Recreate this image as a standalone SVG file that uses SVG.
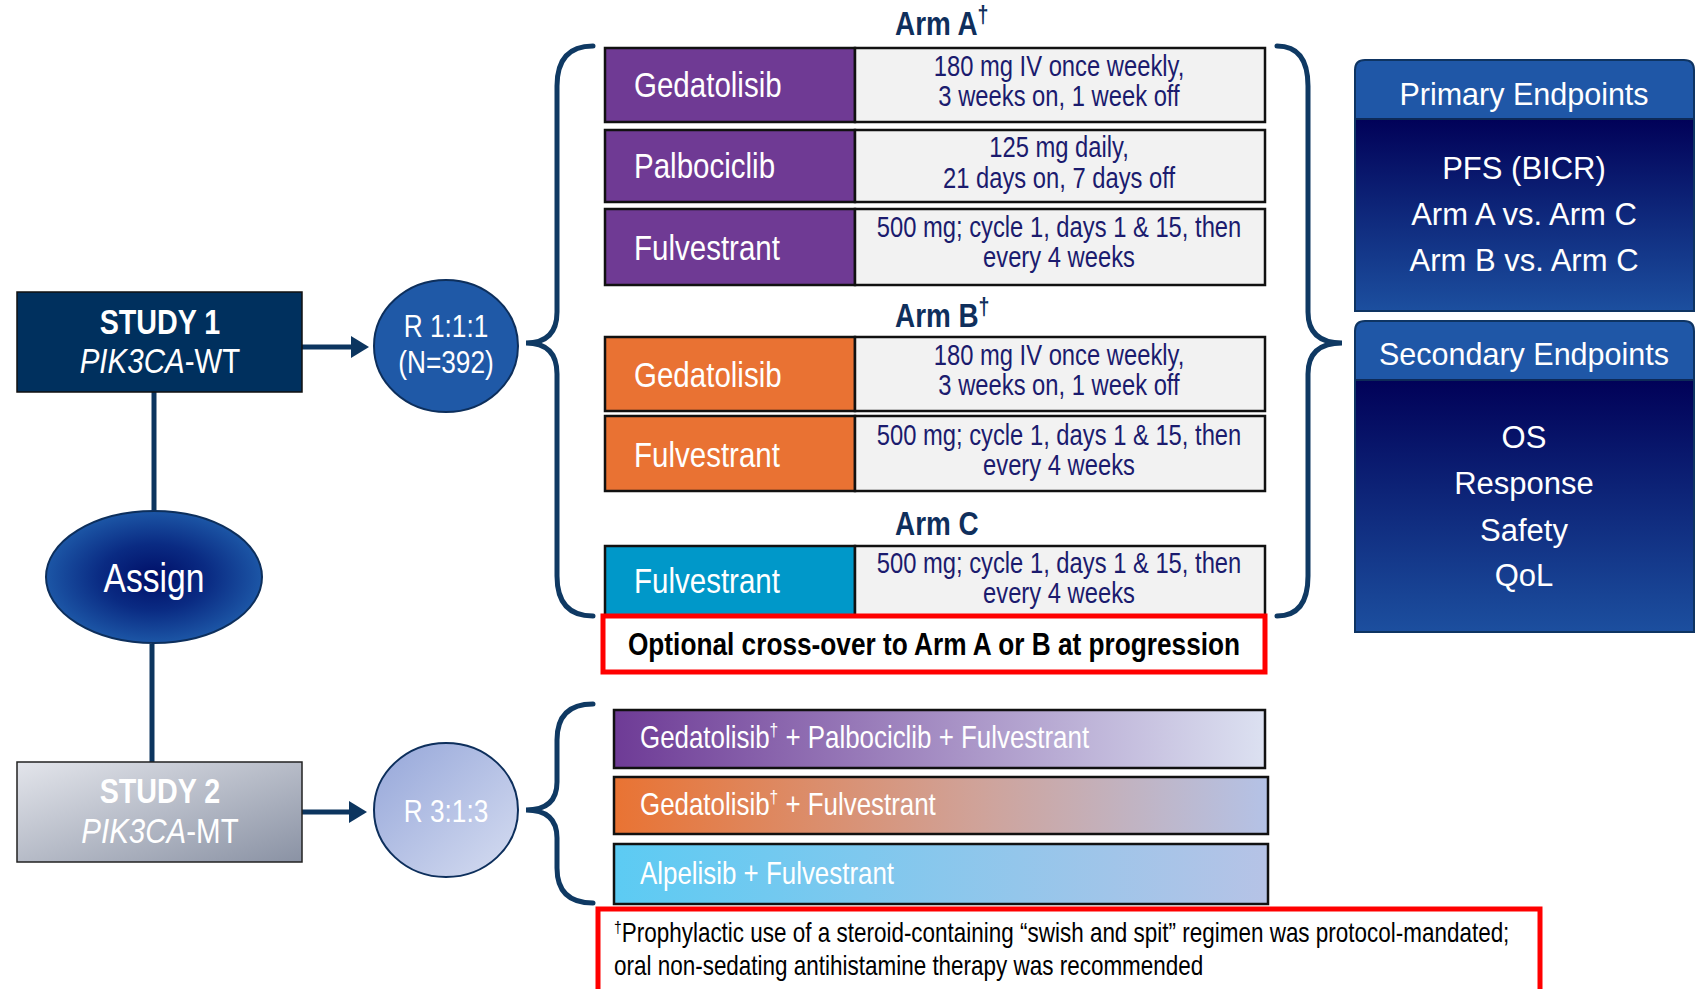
<svg xmlns="http://www.w3.org/2000/svg" width="1701" height="989" viewBox="0 0 1701 989">
  <defs>
    <style>
      .nar { font-family: "Liberation Sans", Arial, sans-serif; }
      .wide { font-family: "Liberation Sans", Arial, sans-serif; }
      .lbl { fill: #ffffff; font-size: 36px; }
      .dose { fill: #1b1b6e; font-size: 29px; text-anchor: middle; }
      .arm { fill: #0f2f5c; font-size: 34px; font-weight: bold; }
      .ep { fill: #ffffff; font-size: 31px; text-anchor: middle; }
      .eph { fill: #ffffff; font-size: 30.5px; text-anchor: middle; }
      .reg { fill: #ffffff; font-size: 31.6px; }
      .foot { fill: #000000; font-size: 27.4px; }
      .cellL { stroke: #111111; stroke-width: 2.5; }
      .cellR { fill: #f2f2f2; stroke: #111111; stroke-width: 2.5; }
      .link { fill: none; stroke: #0c355f; stroke-width: 5; }
      .brace { fill: none; stroke: #0f3963; stroke-width: 5; stroke-linecap: round; }
      .redbox { fill: #ffffff; stroke: #ff0000; stroke-width: 5; }
    </style>
    <marker id="ah" markerWidth="20" markerHeight="22" refX="0" refY="11" orient="auto" markerUnits="userSpaceOnUse">
      <path d="M0,0 L18,11 L0,22 z" fill="#0c355f"/>
    </marker>
    <radialGradient id="assignGrad" cx="50%" cy="50%" r="50%">
      <stop offset="0" stop-color="#000f68"/>
      <stop offset="0.5" stop-color="#0a2b83"/>
      <stop offset="1" stop-color="#1c56a6"/>
    </radialGradient>
    <linearGradient id="study2Grad" x1="0" y1="0" x2="1" y2="1">
      <stop offset="0" stop-color="#e3e5eb"/>
      <stop offset="1" stop-color="#8a92a4"/>
    </linearGradient>
    <linearGradient id="r3Grad" x1="0" y1="0" x2="1" y2="1">
      <stop offset="0" stop-color="#95a6d9"/>
      <stop offset="1" stop-color="#d6ddf1"/>
    </linearGradient>
    <linearGradient id="epBody" x1="0" y1="0" x2="0" y2="1">
      <stop offset="0" stop-color="#010158"/>
      <stop offset="1" stop-color="#1c4f9f"/>
    </linearGradient>
    <linearGradient id="rowP" x1="0" y1="0" x2="1" y2="0">
      <stop offset="0" stop-color="#6e3b96"/>
      <stop offset="1" stop-color="#dce1f1"/>
    </linearGradient>
    <linearGradient id="rowO" x1="0" y1="0" x2="1" y2="0">
      <stop offset="0" stop-color="#e97333"/>
      <stop offset="0.55" stop-color="#d0a298"/>
      <stop offset="1" stop-color="#b4c2e6"/>
    </linearGradient>
    <linearGradient id="rowB" x1="0" y1="0" x2="1" y2="0">
      <stop offset="0" stop-color="#5ccbf3"/>
      <stop offset="1" stop-color="#b6c3e6"/>
    </linearGradient>
  </defs>

  <rect width="1701" height="989" fill="#ffffff"/>

  <!-- connectors -->
  <g id="connectors">
    <path class="link" d="M154,392 V512"/>
    <path class="link" d="M152,644 V762"/>
    <path class="link" d="M302,347 H351" marker-end="url(#ah)"/>
    <path class="link" d="M302,812 H349" marker-end="url(#ah)"/>
    <path class="brace" d="M593,46 Q557,46 557,86 L557,312 Q557,343 526,343 Q557,343 557,374 L557,576 Q557,616 593,616"/>
    <path class="brace" d="M1277,46 Q1308,46 1308,86 L1308,312 Q1308,343 1342,343 Q1308,343 1308,374 L1308,576 Q1308,616 1277,616"/>
    <path class="brace" d="M593,704 Q557,704 557,740 L557,782 Q557,810 526,810 Q557,810 557,838 L557,868 Q557,903 593,903"/>
  </g>

  <!-- study 1 -->
  <g id="study1">
    <rect x="17" y="292" width="285" height="100" fill="#00305e" stroke="#111111" stroke-width="1.5"/>
    <text class="nar" transform="translate(160,334) scale(0.82,1)" fill="#ffffff" font-size="35" font-weight="bold" text-anchor="middle">STUDY 1</text>
    <text class="nar" transform="translate(160,373) scale(0.82,1)" fill="#ffffff" font-size="36" text-anchor="middle"><tspan font-style="italic">PIK3CA</tspan>-WT</text>
  </g>

  <!-- randomisation, study 1 -->
  <g id="rand1">
    <ellipse cx="446" cy="346" rx="72" ry="66" fill="#1f59a7" stroke="#0d2f5c" stroke-width="2"/>
    <text class="nar" transform="translate(446,337) scale(0.82,1)" fill="#ffffff" font-size="32" text-anchor="middle">R 1:1:1</text>
    <text class="nar" transform="translate(446,373) scale(0.82,1)" fill="#ffffff" font-size="32" text-anchor="middle">(N=392)</text>
  </g>

  <!-- assignment -->
  <g id="assign">
    <ellipse cx="154" cy="577" rx="108" ry="66" fill="url(#assignGrad)" stroke="#0d2f5c" stroke-width="2"/>
    <text class="nar" transform="translate(154,592) scale(0.82,1)" fill="#ffffff" font-size="41" text-anchor="middle">Assign</text>
  </g>

  <!-- study 2 -->
  <g id="study2">
    <rect x="17" y="762" width="285" height="100" fill="url(#study2Grad)" stroke="#222222" stroke-width="1.5"/>
    <text class="nar" transform="translate(160,803) scale(0.82,1)" fill="#ffffff" font-size="35" font-weight="bold" text-anchor="middle">STUDY 2</text>
    <text class="nar" transform="translate(160,843) scale(0.82,1)" fill="#ffffff" font-size="36" text-anchor="middle"><tspan font-style="italic">PIK3CA</tspan>-MT</text>
  </g>

  <!-- randomisation, study 2 -->
  <g id="rand2">
    <ellipse cx="446" cy="810" rx="72" ry="67" fill="url(#r3Grad)" stroke="#0d2f5c" stroke-width="2"/>
    <text class="nar" transform="translate(446,822) scale(0.82,1)" fill="#ffffff" font-size="32" text-anchor="middle">R 3:1:3</text>
  </g>

  <!-- arm A -->
  <g id="armA">
    <text class="nar arm" transform="translate(895,35) scale(0.82,1)">Arm A<tspan font-size="24" dy="-12">†</tspan></text>
    <rect class="cellL" x="605" y="48" width="250" height="74" fill="#6f3a94"/>
    <rect class="cellR" x="855" y="48" width="410" height="74"/>
    <text class="nar lbl" transform="translate(634,97) scale(0.82,1)">Gedatolisib</text>
    <text class="nar dose" transform="translate(1059,76) scale(0.82,1)">180 mg IV once weekly,</text>
    <text class="nar dose" transform="translate(1059,106) scale(0.82,1)">3 weeks on, 1 week off</text>

    <rect class="cellL" x="605" y="130" width="250" height="72" fill="#6f3a94"/>
    <rect class="cellR" x="855" y="130" width="410" height="72"/>
    <text class="nar lbl" transform="translate(634,178) scale(0.82,1)">Palbociclib</text>
    <text class="nar dose" transform="translate(1059,157) scale(0.82,1)">125 mg daily,</text>
    <text class="nar dose" transform="translate(1059,188) scale(0.82,1)">21 days on, 7 days off</text>

    <rect class="cellL" x="605" y="209" width="250" height="76" fill="#6f3a94"/>
    <rect class="cellR" x="855" y="209" width="410" height="76"/>
    <text class="nar lbl" transform="translate(634,260) scale(0.82,1)">Fulvestrant</text>
    <text class="nar dose" transform="translate(1059,237) scale(0.82,1)">500 mg; cycle 1, days 1 &amp; 15, then</text>
    <text class="nar dose" transform="translate(1059,267) scale(0.82,1)">every 4 weeks</text>
  </g>

  <!-- arm B -->
  <g id="armB">
    <text class="nar arm" transform="translate(895,327) scale(0.82,1)">Arm B<tspan font-size="24" dy="-12">†</tspan></text>
    <rect class="cellL" x="605" y="337" width="250" height="74" fill="#e97233"/>
    <rect class="cellR" x="855" y="337" width="410" height="74"/>
    <text class="nar lbl" transform="translate(634,387) scale(0.82,1)">Gedatolisib</text>
    <text class="nar dose" transform="translate(1059,365) scale(0.82,1)">180 mg IV once weekly,</text>
    <text class="nar dose" transform="translate(1059,395) scale(0.82,1)">3 weeks on, 1 week off</text>

    <rect class="cellL" x="605" y="416" width="250" height="75" fill="#e97233"/>
    <rect class="cellR" x="855" y="416" width="410" height="75"/>
    <text class="nar lbl" transform="translate(634,467) scale(0.82,1)">Fulvestrant</text>
    <text class="nar dose" transform="translate(1059,445) scale(0.82,1)">500 mg; cycle 1, days 1 &amp; 15, then</text>
    <text class="nar dose" transform="translate(1059,475) scale(0.82,1)">every 4 weeks</text>
  </g>

  <!-- arm C -->
  <g id="armC">
    <text class="nar arm" transform="translate(895,535) scale(0.82,1)">Arm C</text>
    <rect class="cellL" x="605" y="546" width="250" height="70" fill="#0098c9"/>
    <rect class="cellR" x="855" y="546" width="410" height="70"/>
    <text class="nar lbl" transform="translate(634,593) scale(0.82,1)">Fulvestrant</text>
    <text class="nar dose" transform="translate(1059,573) scale(0.82,1)">500 mg; cycle 1, days 1 &amp; 15, then</text>
    <text class="nar dose" transform="translate(1059,603) scale(0.82,1)">every 4 weeks</text>
  </g>

  <!-- cross-over note -->
  <g id="crossover">
    <rect class="redbox" x="603" y="616" width="662" height="56"/>
    <text class="nar" transform="translate(934,655) scale(0.82,1)" fill="#000000" font-size="32" font-weight="bold" text-anchor="middle">Optional cross-over to Arm A or B at progression</text>
  </g>

  <!-- study 2 regimens -->
  <g id="regimen1">
    <rect x="614" y="710" width="651" height="58" fill="url(#rowP)" stroke="#111111" stroke-width="2.5"/>
    <text class="nar reg" transform="translate(640,748) scale(0.82,1)">Gedatolisib<tspan font-size="19" dy="-12">†</tspan><tspan dy="12"> + Palbociclib + Fulvestrant</tspan></text>
  </g>
  <g id="regimen2">
    <rect x="614" y="777" width="654" height="57" fill="url(#rowO)" stroke="#111111" stroke-width="2.5"/>
    <text class="nar reg" transform="translate(640,815) scale(0.82,1)">Gedatolisib<tspan font-size="19" dy="-12">†</tspan><tspan dy="12"> + Fulvestrant</tspan></text>
  </g>
  <g id="regimen3">
    <rect x="614" y="844" width="654" height="60" fill="url(#rowB)" stroke="#111111" stroke-width="2.5"/>
    <text class="nar reg" transform="translate(640,884) scale(0.82,1)">Alpelisib + Fulvestrant</text>
  </g>

  <!-- footnote -->
  <g id="footnote">
    <rect class="redbox" x="598" y="909" width="942" height="100"/>
    <text class="nar foot" transform="translate(614,942) scale(0.82,1)"><tspan font-size="17" dy="-9">†</tspan><tspan dy="9">Prophylactic use of a steroid-containing “swish and spit” regimen was protocol-mandated;</tspan></text>
    <text class="nar foot" transform="translate(614,975) scale(0.82,1)">oral non-sedating antihistamine therapy was recommended</text>
  </g>

  <!-- primary endpoints -->
  <g id="primary">
    <path d="M1355,311 V70 Q1355,60 1365,60 H1684 Q1694,60 1694,70 V311 Z" fill="#1f57a7"/>
    <rect x="1355" y="119" width="339" height="192" fill="url(#epBody)"/>
    <line x1="1355" y1="119" x2="1694" y2="119" stroke="#0d2a58" stroke-width="2"/>
    <path d="M1355,311 V70 Q1355,60 1365,60 H1684 Q1694,60 1694,70 V311 Z" fill="none" stroke="#0e3462" stroke-width="2"/>
    <text class="wide eph" x="1524" y="105">Primary Endpoints</text>
    <text class="wide ep" x="1524" y="179">PFS (BICR)</text>
    <text class="wide ep" x="1524" y="225">Arm A vs. Arm C</text>
    <text class="wide ep" x="1524" y="271">Arm B vs. Arm C</text>
  </g>

  <!-- secondary endpoints -->
  <g id="secondary">
    <path d="M1355,632 V331 Q1355,321 1365,321 H1684 Q1694,321 1694,331 V632 Z" fill="#1f57a7"/>
    <rect x="1355" y="380" width="339" height="252" fill="url(#epBody)"/>
    <line x1="1355" y1="380" x2="1694" y2="380" stroke="#0d2a58" stroke-width="2"/>
    <path d="M1355,632 V331 Q1355,321 1365,321 H1684 Q1694,321 1694,331 V632 Z" fill="none" stroke="#0e3462" stroke-width="2"/>
    <text class="wide eph" x="1524" y="365">Secondary Endpoints</text>
    <text class="wide ep" x="1524" y="448">OS</text>
    <text class="wide ep" x="1524" y="494">Response</text>
    <text class="wide ep" x="1524" y="541">Safety</text>
    <text class="wide ep" x="1524" y="586">QoL</text>
  </g>
</svg>
